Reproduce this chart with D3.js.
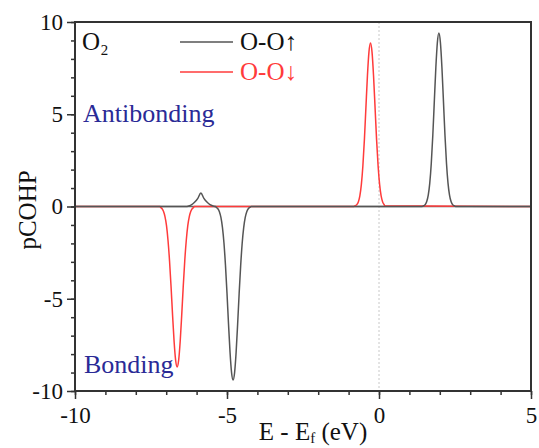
<!DOCTYPE html>
<html>
<head>
<meta charset="utf-8">
<script src="https://cdn.jsdelivr.net/npm/d3@7"></script>
<style>
  body { margin: 0; background: #fff; }
  text { font-family: "Liberation Serif", "Times New Roman", serif; }
</style>
</head>
<body>
<svg id="chart" width="539" height="448"></svg>
<script>
// spin up (O-O↑) pCOHP
const upE = [-10, -6.4, -6.36, -6.26, -6.16, -6.06, -5.96, -5.86, -5.76, -5.66, -5.56, -5.46, -5.38,
  -5.35, -5.3, -5.25, -5.2, -5.15, -5.1, -5.05, -5.0, -4.95, -4.9, -4.85, -4.8,
  -4.75, -4.7, -4.65, -4.6, -4.55, -4.5, -4.45, -4.4, -4.35, -4.3, -4.25, -4.2,
  1.42, 1.47, 1.52, 1.57, 1.62, 1.67, 1.72, 1.77, 1.82, 1.87, 1.92, 1.97,
  2.02, 2.07, 2.12, 2.17, 2.22, 2.27, 2.32, 2.37, 2.42, 2.47, 2.52, 5];
const upV = [0, 0, 0, 0.03, 0.1, 0.24, 0.44, 0.73, 0.44, 0.24, 0.1, 0.03, 0,
  -0.05, -0.12, -0.28, -0.59, -1.13, -1.98, -3.19, -4.7, -6.37, -7.9, -9.0, -9.4,
  -9.0, -7.9, -6.37, -4.7, -3.19, -1.98, -1.13, -0.59, -0.28, -0.12, -0.05, 0,
  0, 0.04, 0.1, 0.27, 0.62, 1.27, 2.34, 3.86, 5.71, 7.53, 8.89, 9.4,
  8.89, 7.53, 5.71, 3.86, 2.34, 1.27, 0.62, 0.27, 0.1, 0.04, 0, 0];

// spin down (O-O↓) pCOHP
const downE = [-10, -7.2, -7.19, -7.14, -7.09, -7.04, -6.99, -6.94, -6.89, -6.84, -6.79, -6.74, -6.69, -6.64,
  -6.59, -6.54, -6.49, -6.44, -6.39, -6.34, -6.29, -6.24, -6.19, -6.14, -6.09, -6.08,
  -0.85, -0.83, -0.78, -0.73, -0.68, -0.63, -0.58, -0.53, -0.48, -0.43, -0.38, -0.33,
  -0.28, -0.23, -0.18, -0.13, -0.08, -0.03, 0.02, 0.07, 0.12, 0.17, 0.19, 5];
const downV = [0, 0, -0.04, -0.11, -0.26, -0.55, -1.04, -1.84, -2.95, -4.35, -5.9, -7.32, -8.33, -8.7,
  -8.33, -7.32, -5.9, -4.35, -2.95, -1.84, -1.04, -0.55, -0.26, -0.11, -0.04, 0,
  0, 0, 0.04, 0.1, 0.25, 0.58, 1.2, 2.21, 3.64, 5.38, 7.1, 8.38, 8.86,
  8.38, 7.1, 5.38, 3.64, 2.21, 1.2, 0.58, 0.25, 0.1, 0.04, 0, 0];

const xTicks = [-10, -5, 0, 5];
const yTicks = [-10, -5, 0, 5, 10];

const svg = d3.select('#chart');
const margin = { top: 22, right: 8, bottom: 57, left: 75 };
const width = 539 - margin.left - margin.right;
const height = 448 - margin.top - margin.bottom;

const x = d3.scaleLinear().domain([-10, 5]).range([0, width]);
const y = d3.scaleLinear().domain([-10, 10]).range([height, 0]);

const g = svg.append('g')
  .attr('transform', 'translate(' + margin.left + ',' + margin.top + ')');

// fermi level
g.append('line')
  .attr('x1', x(0)).attr('x2', x(0))
  .attr('y1', 0).attr('y2', height)
  .attr('stroke', '#c8c8c8')
  .attr('stroke-width', 1)
  .attr('stroke-dasharray', '2,2');

// zero line
g.append('line')
  .attr('x1', 0).attr('x2', width)
  .attr('y1', y(0)).attr('y2', y(0))
  .attr('stroke', '#666')
  .attr('stroke-width', 1.5);

const line = d3.line()
  .x(d => x(d[0]))
  .y(d => y(d[1]))
  .curve(d3.curveMonotoneX);

g.append('path')
  .datum(d3.zip(downE, downV))
  .attr('fill', 'none')
  .attr('stroke', '#ff3b3b')
  .attr('stroke-width', 1.5)
  .attr('d', line);

g.append('path')
  .datum(d3.zip(upE, upV))
  .attr('fill', 'none')
  .attr('stroke', '#555')
  .attr('stroke-width', 1.5)
  .attr('d', line);

// minor ticks
const xAxisMinor = d3.axisBottom(x).ticks(15).tickSize(4).tickFormat('');
const yAxisMinor = d3.axisLeft(y).ticks(20).tickSize(4).tickFormat('');
g.append('g').attr('transform', 'translate(0,' + height + ')').call(xAxisMinor);
g.append('g').call(yAxisMinor);

// major ticks, plain hyphen for negatives like the original
const fmt = d => String(d);
const xAxis = d3.axisBottom(x).tickValues(xTicks).tickSize(8).tickPadding(8).tickFormat(fmt);
const yAxis = d3.axisLeft(y).tickValues(yTicks).tickSize(8).tickPadding(4).tickFormat(fmt);
g.append('g').attr('class', 'xa').attr('transform', 'translate(0,' + height + ')').call(xAxis);
g.append('g').attr('class', 'ya').call(yAxis);

g.selectAll('.domain').remove();
g.selectAll('.tick line').attr('stroke', '#333').attr('stroke-width', 1.5);
g.selectAll('.tick text')
  .attr('fill', '#111')
  .style('font-size', '23px')
  .style('font-family', '"Liberation Serif", serif');

// frame
g.append('rect')
  .attr('x', 0).attr('y', 0)
  .attr('width', width).attr('height', height)
  .attr('fill', 'none')
  .attr('stroke', '#333')
  .attr('stroke-width', 2);

// legend
const legend = [
  { label: 'O-O↑', color: '#555', text: '#111' },
  { label: 'O-O↓', color: '#ff3b3b', text: '#ff3b3b' }
];
legend.forEach((d, i) => {
  const ly = 20 + i * 30;
  g.append('line')
    .attr('x1', 105).attr('x2', 158)
    .attr('y1', ly).attr('y2', ly)
    .attr('stroke', d.color).attr('stroke-width', 1.5);
  g.append('text')
    .attr('x', 165).attr('y', ly + 8)
    .attr('fill', d.text)
    .style('font-size', '25px')
    .text(d.label);
});

g.append('text')
  .attr('x', 7).attr('y', 28)
  .attr('fill', '#111')
  .style('font-size', '25px')
  .text('O₂');

g.append('text')
  .attr('x', 8).attr('y', 100)
  .attr('fill', '#2a2a96')
  .style('font-size', '26px')
  .text('Antibonding');

g.append('text')
  .attr('x', 9).attr('y', 351)
  .attr('fill', '#2a2a96')
  .style('font-size', '26px')
  .text('Bonding');

// axis titles
const xt = svg.append('text')
  .attr('x', 313)
  .attr('y', 440)
  .attr('text-anchor', 'middle')
  .attr('fill', '#111')
  .style('font-size', '25px');
xt.append('tspan').text('E - E');
xt.append('tspan').attr('dy', 3).style('font-size', '15px').text('f');
xt.append('tspan').attr('dy', -3).text(' (eV)');

svg.append('text')
  .attr('transform', 'translate(36,210) rotate(-90)')
  .attr('text-anchor', 'middle')
  .attr('fill', '#111')
  .style('font-size', '25px')
  .text('pCOHP');
</script>
</body>
</html>
